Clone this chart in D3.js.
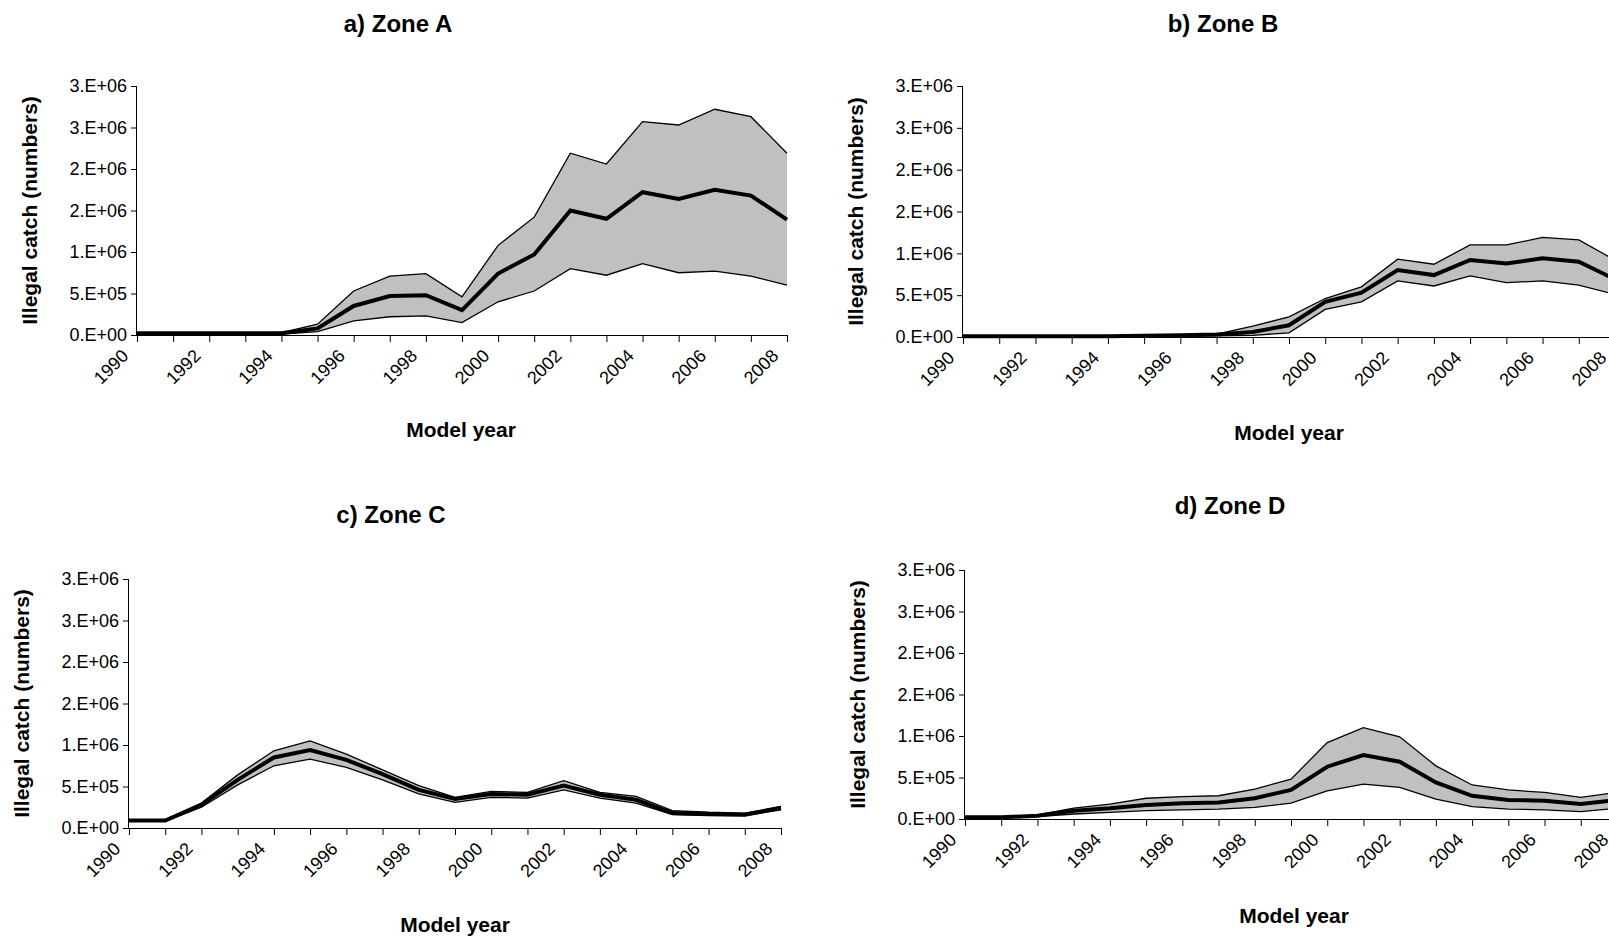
<!DOCTYPE html>
<html><head><meta charset="utf-8">
<script src="https://cdn.jsdelivr.net/npm/d3@7"></script>
<style>body{margin:0;background:#fff}svg{display:block;font-family:"Liberation Sans",Arial,sans-serif}</style>
</head><body><svg id="c" width="1609" height="938"></svg>
<script>
const years = d3.range(1990, 2009);
const yTicks = [0, 0.5e6, 1e6, 1.5e6, 2e6, 2.5e6, 3e6];
const yTickLabels = ["0.E+00", "5.E+05", "1.E+06", "2.E+06", "2.E+06", "3.E+06", "3.E+06"];

// values in millions
const upperA = [0.02,0.02,0.02,0.02,0.03,0.13,0.53,0.71,0.74,0.46,1.08,1.42,2.19,2.06,2.57,2.53,2.72,2.63,2.19];
const meanA  = [0.02,0.02,0.02,0.02,0.02,0.08,0.35,0.47,0.48,0.30,0.74,0.97,1.50,1.40,1.72,1.64,1.75,1.68,1.39];
const lowerA = [0.01,0.01,0.01,0.01,0.01,0.04,0.17,0.22,0.23,0.15,0.40,0.53,0.80,0.72,0.86,0.75,0.77,0.71,0.60];

const upperB = [0.01,0.01,0.01,0.01,0.015,0.02,0.025,0.035,0.13,0.24,0.46,0.60,0.93,0.87,1.10,1.10,1.19,1.16,0.92];
const meanB  = [0.01,0.01,0.01,0.01,0.01,0.015,0.02,0.03,0.06,0.14,0.42,0.53,0.80,0.74,0.92,0.88,0.94,0.90,0.69];
const lowerB = [0.005,0.005,0.005,0.005,0.005,0.01,0.01,0.015,0.02,0.05,0.33,0.42,0.67,0.61,0.73,0.65,0.67,0.62,0.51];

const upperC = [0.10,0.10,0.30,0.64,0.93,1.05,0.89,0.70,0.51,0.37,0.44,0.43,0.57,0.43,0.38,0.21,0.19,0.18,0.26];
const meanC  = [0.09,0.09,0.28,0.58,0.85,0.94,0.82,0.65,0.46,0.35,0.41,0.40,0.51,0.40,0.34,0.18,0.17,0.16,0.24];
const lowerC = [0.08,0.08,0.25,0.52,0.75,0.83,0.73,0.58,0.41,0.31,0.37,0.36,0.46,0.36,0.30,0.16,0.15,0.15,0.22];

const upperD = [0.02,0.02,0.05,0.13,0.18,0.25,0.27,0.28,0.36,0.48,0.92,1.10,0.99,0.64,0.41,0.35,0.32,0.26,0.32];
const meanD  = [0.02,0.02,0.04,0.10,0.13,0.17,0.19,0.20,0.25,0.35,0.63,0.77,0.69,0.44,0.28,0.23,0.22,0.18,0.23];
const lowerD = [0.01,0.01,0.03,0.06,0.08,0.10,0.11,0.12,0.14,0.19,0.34,0.42,0.38,0.24,0.15,0.12,0.11,0.09,0.13];

const panels = [
  {title:"a) Zone A", up:upperA, mid:meanA, lo:lowerA, x0:137, x1:787, yT:86, yB:335, tx:398, ty:23, mx:461, my:429},
  {title:"b) Zone B", up:upperB, mid:meanB, lo:lowerB, x0:963, x1:1615, yT:86, yB:337, tx:1223, ty:23, mx:1289, my:432},
  {title:"c) Zone C", up:upperC, mid:meanC, lo:lowerC, x0:129, x1:781, yT:579, yB:828, tx:391, ty:514, mx:455, my:924},
  {title:"d) Zone D", up:upperD, mid:meanD, lo:lowerD, x0:965, x1:1617, yT:570, yB:819, tx:1230, ty:505, mx:1294, my:915}
];

const svg = d3.select("#c");
panels.forEach((p, k) => {
  const x = d3.scaleLinear().domain([1990, 2008]).range([p.x0, p.x1]);
  const y = d3.scaleLinear().domain([0, 3e6]).range([p.yB, p.yT]);
  const g = svg.append("g");
  const cid = "clip" + k;
  svg.append("clipPath").attr("id", cid).append("rect")
    .attr("x", p.x0 - 5).attr("y", p.yT - 10).attr("width", 1609 - p.x0 + 5 - 1).attr("height", p.yB - p.yT + 20);
  const pts = years.map((yr, i) => ({yr, u: p.up[i]*1e6, m: p.mid[i]*1e6, l: p.lo[i]*1e6}));
  const plot = g.append("g").attr("clip-path", `url(#${cid})`);
  plot.append("path").datum(pts).attr("fill", "#c0c0c0")
    .attr("d", d3.area().x(d => x(d.yr)).y0(d => y(d.l)).y1(d => y(d.u)));
  [["u",1.3],["l",1.3],["m",4]].forEach(([key, w]) => {
    plot.append("path").datum(pts).attr("fill", "none").attr("stroke", "#000").attr("stroke-width", w)
      .attr("d", d3.line().x(d => x(d.yr)).y(d => y(d[key])));
  });

  const ya = g.append("g").attr("transform", `translate(${p.x0},0)`)
    .call(d3.axisLeft(y).tickValues(yTicks).tickSize(6).tickPadding(4).tickFormat((d, i) => yTickLabels[i]));
  ya.select(".domain").attr("d", `M-0.5,${p.yT}V${p.yB}`);
  ya.selectAll("text").attr("font-size", 18).attr("fill", "#000");

  const xa = g.append("g").attr("transform", `translate(0,${p.yB})`)
    .call(d3.axisBottom(x).tickValues(years).tickSize(7).tickFormat(d => d % 2 === 0 ? d : ""));
  xa.select(".domain").attr("d", `M${p.x0},0.5H${Math.min(p.x1, 1609)}`).attr("stroke-width", 1.2);
  xa.selectAll("text").attr("font-size", 18).attr("fill", "#000")
    .attr("text-anchor", "end").attr("dy", 0).attr("y", 0)
    .attr("transform", "translate(-8,22) rotate(-45)");
  g.selectAll(".tick line").attr("stroke", "#000");

  g.append("text").attr("x", p.tx).attr("y", p.ty).attr("dominant-baseline", "central").attr("text-anchor", "middle")
    .attr("font-size", 24).attr("font-weight", "bold").text(p.title);
  g.append("text").attr("x", p.mx).attr("y", p.my).attr("dominant-baseline", "central").attr("text-anchor", "middle")
    .attr("font-size", 21).attr("font-weight", "bold").text("Model year");
  g.append("text").attr("transform", `translate(${p.x0 - 108},${(p.yT + p.yB) / 2}) rotate(-90)`)
    .attr("dominant-baseline", "central").attr("text-anchor", "middle")
    .attr("font-size", 21).attr("font-weight", "bold").text("Illegal catch (numbers)");
});
</script></body></html>
